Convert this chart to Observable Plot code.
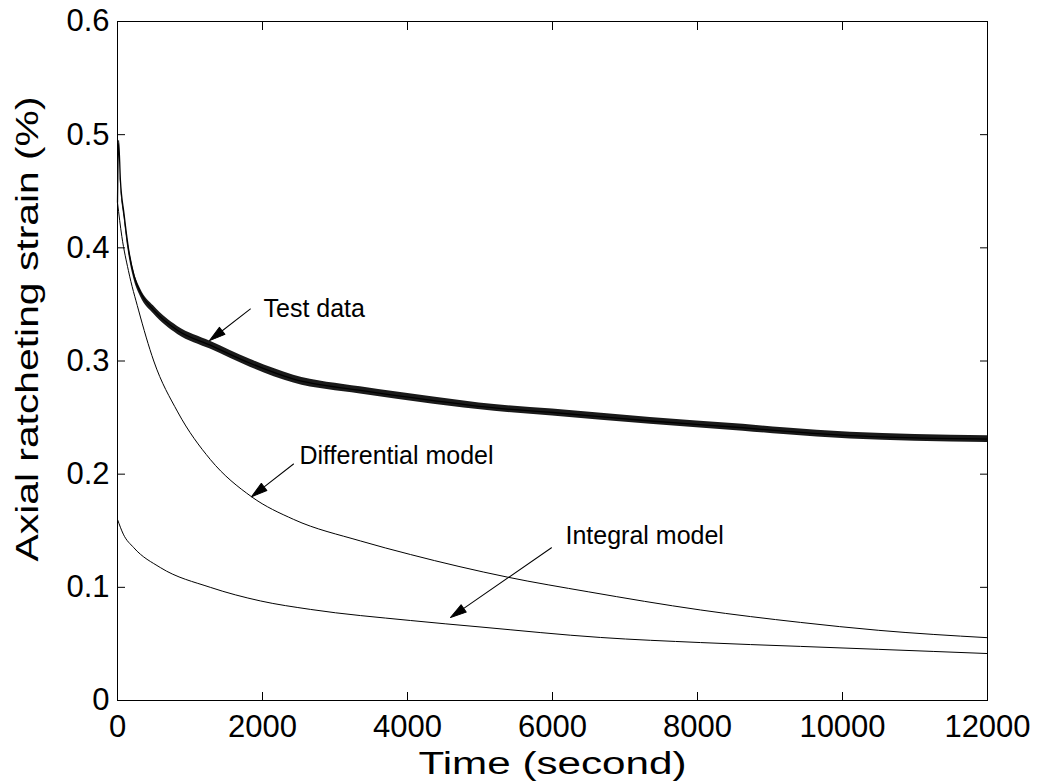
<!DOCTYPE html>
<html><head><meta charset="utf-8">
<script src="https://cdn.jsdelivr.net/npm/d3@7"></script>
<script src="https://cdn.jsdelivr.net/npm/@observablehq/plot@0.6"></script>
<style>
body{margin:0;background:#fff}
#chart svg{font-family: Arial, "Liberation Sans", sans-serif; background:#fff}
</style>
</head><body><div id="chart"></div>
<script>
// ---- data ----
const testTime   = [0, 15, 40, 90, 150, 230, 320, 500, 830, 1280, 1830, 2430, 3350, 4360, 5200, 6000, 7350, 8630, 9190, 10110, 11000, 12000];
const testStrain = [0.44, 0.495, 0.46, 0.43, 0.40, 0.375, 0.36, 0.345, 0.327, 0.314, 0.298, 0.284, 0.274, 0.265, 0.2585, 0.2545, 0.247, 0.241, 0.238, 0.234, 0.232, 0.231];
const testSpread = [0.0, 0.0, 0.002, 0.003, 0.0035, 0.0035, 0.0035, 0.0035, 0.0035, 0.0035, 0.0035, 0.0035, 0.0032, 0.0032, 0.003, 0.003, 0.003, 0.003, 0.003, 0.003, 0.003, 0.003];

const diffTime   = [0, 60, 150, 290, 500, 830, 1280, 1850, 2430, 3350, 4040, 5380, 6500, 8040, 9420, 10500, 12000];
const diffStrain = [0.44, 0.41, 0.38, 0.345, 0.30, 0.255, 0.213, 0.18, 0.16, 0.141, 0.129, 0.109, 0.096, 0.080, 0.069, 0.062, 0.0555];

const intTime   = [0, 80, 225, 590, 1280, 1970, 2660, 4040, 5000, 6660, 8040, 9420, 10500, 12000];
const intStrain = [0.16, 0.147, 0.135, 0.1175, 0.1, 0.088, 0.0805, 0.0707, 0.065, 0.0557, 0.0512, 0.0478, 0.0452, 0.0415];

const xTicks = [0, 2000, 4000, 6000, 8000, 10000, 12000];
const yTicks = [0, 0.1, 0.2, 0.3, 0.4, 0.5, 0.6];

const annoLabel  = ["Test data", "Differential model", "Integral model"];
const annoTextX  = [2014, 2510, 6179];
const annoTextY  = [0.346, 0.2164, 0.145];
const arrowFromX = [1834, 2428, 5986];
const arrowFromY = [0.346, 0.209, 0.135];
const arrowToX   = [1269, 1848, 4593];
const arrowToY   = [0.318, 0.180, 0.0733];

const xTitle = "Time (second)";
const yTitle = "Axial ratcheting strain (%)";

// ---- build tables ----
const test = testTime.map((t, i) => ({t, v: testStrain[i], lo: testStrain[i] - testSpread[i], hi: testStrain[i] + testSpread[i]}));
const diff = diffTime.map((t, i) => ({t, v: diffStrain[i]}));
const integ = intTime.map((t, i) => ({t, v: intStrain[i]}));
const annos = annoLabel.map((label, i) => ({label, x: annoTextX[i], y: annoTextY[i], x1: arrowFromX[i], y1: arrowFromY[i], x2: arrowToX[i], y2: arrowToY[i]}));

const W = 1039, H = 784, mL = 117, mR = 52, mT = 21, mB = 84;
const xScale = Plot.scale({x: {domain: [0, 12000], range: [mL, W - mR]}});
const yScale = Plot.scale({y: {domain: [0, 0.6], range: [H - mB, mT]}});
annos.forEach(a => {
  const dx = xScale.apply(a.x2) - xScale.apply(a.x1);
  const dy = yScale.apply(a.y2) - yScale.apply(a.y1);
  a.len = Math.hypot(dx, dy);
  a.rot = Math.atan2(dx, -dy) * 180 / Math.PI;
});

const arrowShape = {
  draw(ctx, l) {
    ctx.moveTo(0, 0); ctx.lineTo(0, -l + 10);
    ctx.moveTo(0, -l); ctx.lineTo(-4.5, -l + 16); ctx.lineTo(4.5, -l + 16); ctx.closePath();
  }
};

const fmt = d => String(d);
const T = 8; // tick length
const chart = Plot.plot({
  width: W, height: H,
  marginLeft: mL, marginRight: mR, marginTop: mT, marginBottom: mB,
  x: {domain: [0, 12000]},
  y: {domain: [0, 0.6]},
  length: {type: "identity"},
  style: {background: "#fff", color: "#000"},
  marks: [
    Plot.frame({stroke: "#000", strokeWidth: 1}),
    // inward ticks on all four sides
    Plot.axisX(xTicks, {anchor: "bottom", tickSize: T, dy: -T, fill: "none", stroke: "#000", label: null}),
    Plot.axisX(xTicks, {anchor: "top", tickSize: T, dy: T, fill: "none", stroke: "#000", label: null}),
    Plot.axisY(yTicks, {anchor: "left", tickSize: T, dx: T, fill: "none", stroke: "#000", label: null}),
    Plot.axisY(yTicks, {anchor: "right", tickSize: T, dx: -T, fill: "none", stroke: "#000", label: null}),
    // tick labels
    Plot.axisX(xTicks, {anchor: "bottom", tickSize: 0, tickPadding: 14, fontSize: 31, tickFormat: fmt, label: null, fill: "#000"}),
    Plot.axisY(yTicks, {anchor: "left", tickSize: 0, tickPadding: 8, fontSize: 31, tickFormat: fmt, label: null, fill: "#000"}),
    // series
    Plot.areaY(test, {x: "t", y1: "lo", y2: "hi", fill: "#1a1a1a", curve: "monotone-x"}),
    Plot.line(test, {x: "t", y: "v", stroke: "#000", strokeWidth: 1.3, curve: "monotone-x"}),
    Plot.line(diff, {x: "t", y: "v", stroke: "#000", strokeWidth: 1, curve: "monotone-x"}),
    Plot.line(integ, {x: "t", y: "v", stroke: "#000", strokeWidth: 1, curve: "monotone-x"}),
    // annotations
    Plot.vector(annos, {x: "x1", y: "y1", length: "len", rotate: "rot", anchor: "start", shape: arrowShape, stroke: "#000", fill: "#000", strokeWidth: 1}),
    Plot.text(annos, {x: "x", y: "y", text: "label", textAnchor: "start", fontSize: 25, fill: "#000"}),
    // axis titles
    Plot.text([xTitle], {frameAnchor: "bottom", dy: 64, lineAnchor: "middle", textAnchor: "middle", fontSize: 31, fill: "#000"}),
    Plot.text([yTitle], {frameAnchor: "left", dx: -89, dy: -32, rotate: -90, lineAnchor: "middle", textAnchor: "middle", fontSize: 31, fill: "#000"})
  ]
});
// stretch the two axis titles to the width they take in the reference
d3.select(chart).selectAll("text").each(function() {
  if (this.textContent === xTitle) { this.setAttribute("textLength", 268); this.setAttribute("lengthAdjust", "spacingAndGlyphs"); }
  if (this.textContent === yTitle) { this.setAttribute("textLength", 465); this.setAttribute("lengthAdjust", "spacingAndGlyphs"); }
});
document.getElementById("chart").appendChild(chart);
</script>
</body></html>
